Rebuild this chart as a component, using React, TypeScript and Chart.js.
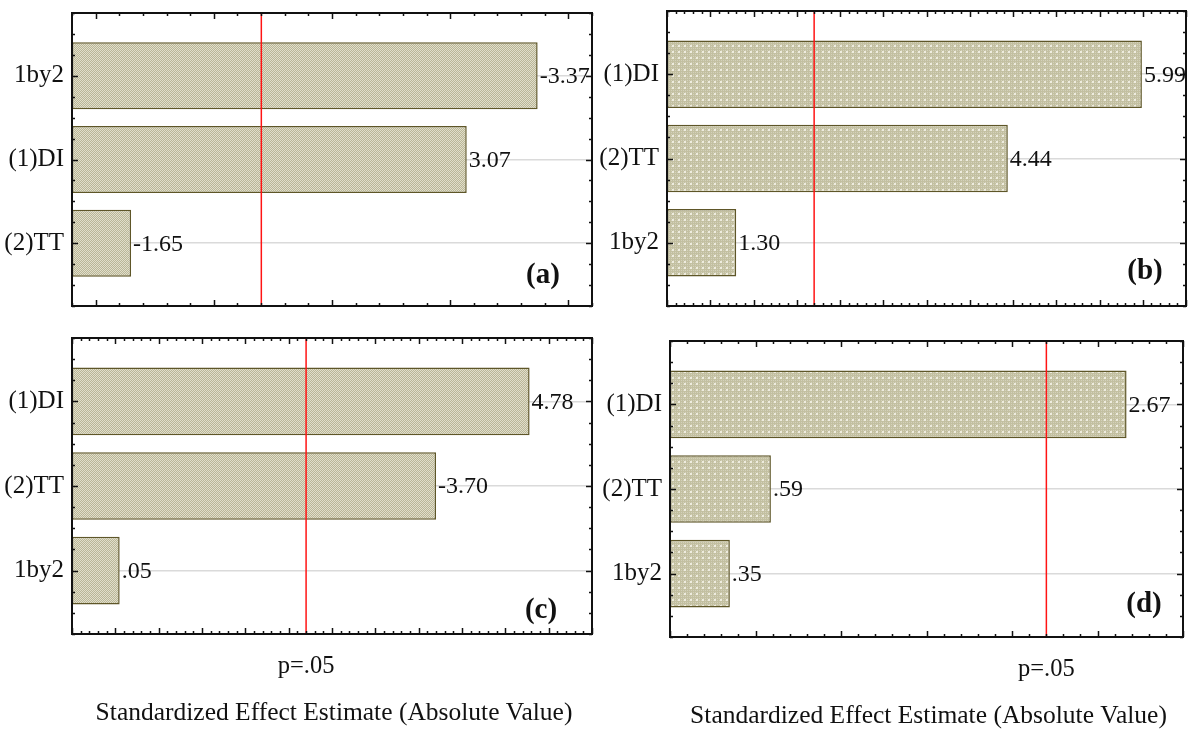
import React, { useEffect, useRef } from "react";
import { Chart, registerables } from "chart.js";

Chart.register(...registerables);

// ---- data ----
const categoriesA = ["1by2", "(1)DI", "(2)TT"];
const effectsA = [-3.37, 3.07, -1.65];
const xRangeA = [1.4, 3.6];

const categoriesB = ["(1)DI", "(2)TT", "1by2"];
const effectsB = [5.99, 4.44, 1.3];
const xRangeB = [0.5, 6.5];

const categoriesC = ["(1)DI", "(2)TT", "1by2"];
const effectsC = [4.78, -3.7, 0.05];
const xRangeC = [-0.5, 5.5];

const categoriesD = ["(1)DI", "(2)TT", "1by2"];
const effectsD = [2.67, 0.59, 0.35];
const xRangeD = [0, 3];

const pCritical = 2.201;
const panelTags = ["(a)", "(b)", "(c)", "(d)"];
const pLabel = "p=.05";
const xTitle = "Standardized Effect Estimate (Absolute Value)";

// ---- layout / style ----
const SERIF = '"Liberation Serif", "Times New Roman", serif';

type Panel = {
  cats: string[];
  effects: number[];
  range: number[];
  tag: string;
  fill: "check" | "dots";
  canvas: { x: number; y: number; w: number; h: number };
  plot: { l: number; t: number; r: number; b: number };
  tagOffset: { dx: number; dy: number };
  axisText: boolean;
};

const panels: Panel[] = [
  {
    cats: categoriesA, effects: effectsA, range: xRangeA, tag: panelTags[0], fill: "check",
    canvas: { x: 0, y: 0, w: 597, h: 320 }, plot: { l: 72, t: 13, r: 592, b: 306 },
    tagOffset: { dx: 49, dy: 30 }, axisText: false,
  },
  {
    cats: categoriesB, effects: effectsB, range: xRangeB, tag: panelTags[1], fill: "dots",
    canvas: { x: 597, y: 0, w: 598, h: 320 }, plot: { l: 667, t: 11, r: 1186, b: 306 },
    tagOffset: { dx: 41, dy: 34 }, axisText: false,
  },
  {
    cats: categoriesC, effects: effectsC, range: xRangeC, tag: panelTags[2], fill: "check",
    canvas: { x: 0, y: 320, w: 597, h: 411 }, plot: { l: 72, t: 338, r: 592, b: 634 },
    tagOffset: { dx: 51, dy: 23 }, axisText: true,
  },
  {
    cats: categoriesD, effects: effectsD, range: xRangeD, tag: panelTags[3], fill: "dots",
    canvas: { x: 597, y: 320, w: 598, h: 411 }, plot: { l: 670, t: 341, r: 1183, b: 637 },
    tagOffset: { dx: 39, dy: 32 }, axisText: true,
  },
];

function makePattern(kind: "check" | "dots"): CanvasPattern | string {
  const c = document.createElement("canvas");
  const g = c.getContext("2d");
  if (!g) return "#cbc8ad";
  if (kind === "check") {
    c.width = 2;
    c.height = 2;
    g.fillStyle = "#b9b697";
    g.fillRect(0, 0, 2, 2);
    g.fillStyle = "#e1decb";
    g.fillRect(0, 0, 1, 1);
    g.fillRect(1, 1, 1, 1);
  } else {
    c.width = 6;
    c.height = 6;
    g.fillStyle = "#c3c0a1";
    g.fillRect(0, 0, 6, 6);
    g.fillStyle = "#d4d1bb";
    for (let i = 0; i < 6; i += 2) for (let j = 0; j < 6; j += 2) g.fillRect(i, j, 1, 1);
    g.fillStyle = "#eeecdf";
    g.fillRect(3, 3, 2, 2);
  }
  return g.createPattern(c, "repeat") || "#cbc8ad";
}

const fmt = (v: number) => v.toFixed(2).replace(/^(-?)0\./, "$1.");

function PanelChart({ p }: { p: Panel }) {
  const ref = useRef<HTMLCanvasElement>(null);

  useEffect(() => {
    if (!ref.current) return;
    const [xMin, xMax] = p.range;

    const overlay = {
      id: "paretoOverlay",
      afterDatasetsDraw(chart: any) {
        const { ctx, chartArea: a, scales } = chart;
        const xs = scales.x;
        const ys = scales.y;
        ctx.save();

        // p = .05 reference line
        const px = xs.getPixelForValue(pCritical);
        ctx.strokeStyle = "#ff1414";
        ctx.lineWidth = 1.5;
        ctx.beginPath();
        ctx.moveTo(px, a.top);
        ctx.lineTo(px, a.bottom);
        ctx.stroke();

        // inward ticks on all four sides
        ctx.strokeStyle = "#111";
        ctx.lineWidth = 1.5;
        ctx.beginPath();
        const nx = Math.round((xMax - xMin) * 10);
        for (let i = 0; i <= nx; i++) {
          const v = xMin + i / 10;
          const major = Math.abs(Math.round(v * 10)) % 5 === 0;
          const len = major ? 6 : 3;
          const x = Math.round(xs.getPixelForValue(v)) + 0.5;
          ctx.moveTo(x, a.bottom);
          ctx.lineTo(x, a.bottom - len);
          ctx.moveTo(x, a.top);
          ctx.lineTo(x, a.top + len);
        }
        for (let j = -3; j <= 11; j++) {
          const v = j / 4;
          const major = j % 4 === 0;
          const len = major ? 6 : 3;
          const y = Math.round(ys.getPixelForValue(v)) + 0.5;
          ctx.moveTo(a.left, y);
          ctx.lineTo(a.left + len, y);
          ctx.moveTo(a.right, y);
          ctx.lineTo(a.right - len, y);
        }
        ctx.stroke();

        // frame
        ctx.lineWidth = 2;
        ctx.strokeRect(a.left, a.top, a.right - a.left, a.bottom - a.top);

        // value labels at bar ends
        const meta = chart.getDatasetMeta(0);
        ctx.fillStyle = "#111";
        ctx.font = `24px ${SERIF}`;
        ctx.textAlign = "left";
        ctx.textBaseline = "middle";
        meta.data.forEach((el: any, i: number) => {
          ctx.fillText(fmt(p.effects[i]), el.x + 2, el.y + 1);
        });

        // panel tag
        ctx.font = `bold 29px ${SERIF}`;
        ctx.textAlign = "center";
        ctx.fillText(p.tag, a.right - p.tagOffset.dx, a.bottom - p.tagOffset.dy);

        // axis texts under the lower panels
        if (p.axisText) {
          ctx.textBaseline = "alphabetic";
          ctx.font = `24.5px ${SERIF}`;
          ctx.fillText(pLabel, px, a.bottom + 39);
          ctx.font = `25.5px ${SERIF}`;
          ctx.fillText(xTitle, (a.left + a.right) / 2 + 2, a.bottom + 86);
        }
        ctx.restore();
      },
    };

    const chart = new Chart(ref.current, {
      type: "bar",
      data: {
        datasets: [
          {
            data: p.effects.map((v, i) => ({ x: Math.abs(v), y: i })),
            base: xMin,
            backgroundColor: makePattern(p.fill) as any,
            borderColor: "#5e5628",
            borderWidth: 1.5,
            borderSkipped: false,
            categoryPercentage: 1,
            barPercentage: 0.8,
          } as any,
        ],
      },
      options: {
        indexAxis: "y",
        responsive: false,
        maintainAspectRatio: false,
        animation: false,
        devicePixelRatio: 1,
        layout: {
          padding: {
            left: 0,
            top: p.plot.t - p.canvas.y,
            right: p.canvas.x + p.canvas.w - p.plot.r,
            bottom: p.canvas.y + p.canvas.h - p.plot.b,
          },
        },
        plugins: {
          legend: { display: false },
          tooltip: { enabled: false },
        },
        scales: {
          x: {
            type: "linear",
            display: false,
            min: xMin,
            max: xMax,
          },
          y: {
            type: "linear",
            min: -0.75,
            max: 2.75,
            reverse: true,
            offset: false,
            afterBuildTicks: (s: any) => {
              s.ticks = p.cats.map((_, i) => ({ value: i }));
            },
            afterFit: (s: any) => {
              s.width = p.plot.l - p.canvas.x;
              s.paddingTop = 0;
              s.paddingBottom = 0;
            },
            ticks: {
              autoSkip: false,
              padding: 8,
              color: "#111",
              font: { family: SERIF, size: 25 },
              callback: (v: any) => p.cats[Math.round(Number(v))] ?? "",
            },
            grid: {
              offset: false,
              drawTicks: false,
              color: "#dadada",
              lineWidth: 1.5,
            },
            border: { display: false },
          },
        },
      } as any,
      plugins: [overlay],
    });

    return () => chart.destroy();
  }, [p]);

  return (
    <canvas
      ref={ref}
      width={p.canvas.w}
      height={p.canvas.h}
      style={{
        position: "absolute",
        left: p.canvas.x,
        top: p.canvas.y,
        width: p.canvas.w,
        height: p.canvas.h,
      }}
    />
  );
}

export default function App() {
  return (
    <div
      style={{
        position: "fixed",
        left: 0,
        top: 0,
        width: 1195,
        height: 731,
        background: "#fff",
        overflow: "hidden",
      }}
    >
      {panels.map((p) => (
        <PanelChart key={p.tag} p={p} />
      ))}
    </div>
  );
}
